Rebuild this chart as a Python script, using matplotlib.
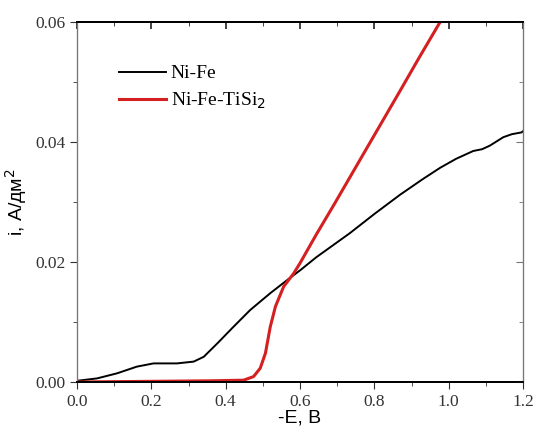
import numpy as np
import matplotlib.pyplot as plt

# Ni-Fe (black)
e_nife = [0.0, 0.054, 0.108, 0.161, 0.206, 0.269, 0.314, 0.341, 0.377, 0.421,
          0.466, 0.52, 0.574, 0.6, 0.644, 0.734, 0.80, 0.869, 0.93, 0.977,
          1.02, 1.066, 1.09, 1.111, 1.147, 1.17, 1.196, 1.2]
i_nife = [0.0002, 0.0006, 0.00145, 0.00256, 0.0031, 0.0031, 0.0034, 0.0042,
          0.0064, 0.0092, 0.012, 0.0148, 0.0174, 0.0186, 0.0208, 0.0248,
          0.0280, 0.0312, 0.0338, 0.0357, 0.0372, 0.0385, 0.0388, 0.0394,
          0.0408, 0.0413, 0.0416, 0.0418]

# Ni-Fe-TiSi2 (red)
e_tisi = [0.0, 0.359, 0.448, 0.475, 0.493, 0.507, 0.52, 0.534, 0.556, 0.583,
          0.6, 0.644, 0.69, 0.735, 0.779, 0.824, 0.869, 0.92, 0.977, 0.985]
i_tisi = [0.0, 0.0002, 0.0003, 0.0009, 0.0023, 0.0048, 0.0092, 0.0126, 0.0159,
          0.0181, 0.0198, 0.0246, 0.0294, 0.0342, 0.0389, 0.0437, 0.0485,
          0.0540, 0.0600, 0.0609]

xmaj = np.arange(0, 1.21, 0.2)
xmin = np.arange(0.1, 1.2, 0.2)
ymaj = [0, 0.02, 0.04, 0.06]
ymin = [0.01, 0.03, 0.05]

plt.rcParams['font.family'] = 'Liberation Serif'

fig = plt.figure(figsize=(5.35, 4.32), dpi=100)
ax = fig.add_axes([77/535, 1 - 382/432, (523-77)/535, (382-22)/432])

ax.plot(e_nife, i_nife, color="black", lw=1.4, label="Ni-Fe")
ax.plot(e_tisi, i_tisi, color="#d42020", lw=2.2, label="Ni-Fe-TiSi$_2$")

ax.set_xlim(0, 1.2)
ax.set_ylim(0, 0.06)
ax.set_xticks(xmaj)
ax.set_xticks(xmin, minor=True)
ax.set_yticks(ymaj)
ax.set_yticks(ymin, minor=True)
ax.set_xticklabels(["0.0", "0.2", "0.4", "0.6", "0.8", "1.0", "1.2"])
ax.set_yticklabels(["0.00", "0.02", "0.04", "0.06"])
ax.tick_params(which="both", direction="out", labelsize=12.5, color="#333333",
               labelcolor="#333333")
ax.tick_params(which="major", length=5)
ax.tick_params(which="minor", length=3)

# inward ticks on top and right
axt = ax.twiny()
axt.set_xlim(0, 1.2)
axt.set_xticks(xmaj)
axt.set_xticks(xmin, minor=True)
axt.tick_params(which="both", direction="in", labeltop=False, color="#222222")
axt.tick_params(which="major", length=5, width=1.2)
axt.tick_params(which="minor", length=3)
axr = ax.twinx()
axr.set_ylim(0, 0.06)
axr.set_yticks(ymaj)
axr.set_yticks(ymin, minor=True)
axr.tick_params(which="both", direction="in", labelright=False, color="#777777")
axr.tick_params(which="major", length=5)
axr.tick_params(which="minor", length=3)

for a in [ax, axt, axr]:
    for side in ["left", "right"]:
        a.spines[side].set_color("#777777")
    for side in ["top", "bottom"]:
        a.spines[side].set_color("black")
        a.spines[side].set_linewidth(1.3)

ax.set_xlabel("-E, B", family="Liberation Sans", fontsize=14, labelpad=0)
ax.set_ylabel("i, A/дм$^2$", family="Liberation Sans", fontsize=14, labelpad=4)

ax.legend(loc="upper left", bbox_to_anchor=(0.055, 0.93), frameon=False,
          fontsize=14, handlelength=2.4, handletextpad=0.25, labelspacing=0.45)

fig.savefig("out.png", dpi=100)
